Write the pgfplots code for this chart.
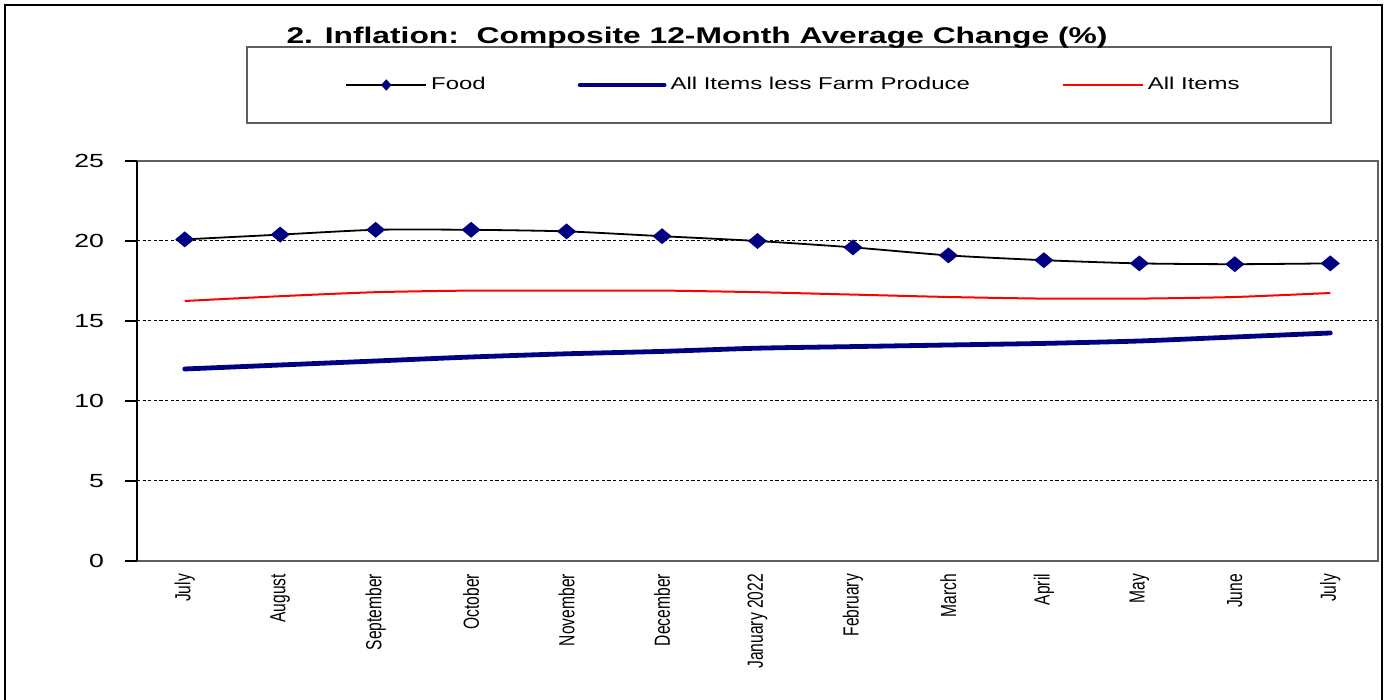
\documentclass[border=0pt]{standalone}
\usepackage{pgfplots}
\pgfplotsset{compat=1.18}
\usepackage{fontspec}
\usepackage{graphicx}
\setmainfont{Liberation Sans}
\newfontfamily\wf{Liberation Sans}[FakeStretch=1.4]
\definecolor{navy}{RGB}{0,0,128}
\definecolor{framegray}{RGB}{95,95,95}
\newcommand\ml[1]{\scalebox{1}[1.4]{#1}}
\begin{document}
\begin{tikzpicture}[x=0.5pt,y=0.5pt]
\useasboundingbox (0,0) rectangle (1388,700);
\draw[line width=1pt, black] (5,-10) -- (5,695) -- (1382,695) -- (1382,-10);
\draw[line width=0.8pt, framegray] (247,577) rectangle (1331,653);
\begin{axis}[
  at={(68.5pt,69.5pt)}, anchor=south west, scale only axis,
  width=620.5pt, height=200pt,
  xmin=-0.5, xmax=12.5, ymin=0, ymax=25,
  clip=false,
  axis line style={draw=none},
  xtick={0,1,2,3,4,5,6,7,8,9,10,11,12},
  xticklabels={\ml{July},\ml{August},\ml{September},\ml{October},\ml{November},\ml{December},\ml{January 2022},\ml{February},\ml{March},\ml{April},\ml{May},\ml{June},\ml{July}},
  xtick pos=bottom, ytick pos=left,
  tick align=outside,
  x tick style={draw=none},
  extra x ticks={-0.5,2.5,5.5,8.5,11.5},
  extra x tick labels={},
  extra x tick style={grid=none, major tick length=2.5pt, tick style={draw=framegray, line width=0.8pt}},
  xticklabel style={rotate=90, anchor=east, font=\fontsize{7.8}{9}\selectfont},
  xticklabel shift=-3pt,
  ytick={0,5,10,15,20,25},
  y tick style={black, line width=0.6pt},
  major tick length=6pt,
  /pgf/number format/assume math mode=true,
  yticklabel style={font=\wf\fontsize{9.5}{11}\selectfont, xshift=-7pt},
  ymajorgrids,
  grid style={black, line width=0.5pt, dash pattern=on 1.6pt off 1.2pt},
  title={2. Inflation:\ \ Composite 12-Month Average Change (\%)},
  title style={at={(axis description cs:0.4513,1.278)}, anchor=center, font=\wf\bfseries\fontsize{11.35}{14}\selectfont},
  legend columns=3,
  legend cell align=left,
  legend style={at={(axis description cs:0.1676,1.19)}, anchor=west, draw=none, fill=none, inner sep=0pt,
    font=\wf\fontsize{8.55}{10}\selectfont,
    /tikz/every even column/.append style={column sep=44pt}},
]
\addplot[black, line width=0.9pt, smooth, tension=0.4, mark=diamond*, mark size=3.4pt,
  mark options={navy, fill=navy, xscale=1.6, solid},
  legend image code/.code={\draw[black, line width=0.9pt] (0pt,0pt) -- (40pt,0pt);
    \fill[navy] (20pt,2.2pt) -- (22pt,0pt) -- (20pt,-2.2pt) -- (18pt,0pt) -- cycle;}]
coordinates {(0,20.1) (1,20.4) (2,20.7) (3,20.7) (4,20.6) (5,20.3) (6,20.0) (7,19.6) (8,19.1) (9,18.8) (10,18.6) (11,18.55) (12,18.6)};
\addlegendentry{Food}
\addplot[navy, line width=2.4pt, smooth, tension=0.4, line cap=round,
  legend image code/.code={\draw[navy, line width=2.4pt, line cap=round] (0pt,0pt) -- (42pt,0pt);}]
coordinates {(0,12.0) (1,12.25) (2,12.5) (3,12.75) (4,12.95) (5,13.1) (6,13.3) (7,13.4) (8,13.5) (9,13.6) (10,13.75) (11,14.0) (12,14.25)};
\addlegendentry{All Items less Farm Produce\hspace{2.5pt}}
\addplot[red, line width=1pt, smooth, tension=0.4,
  legend image code/.code={\draw[red, line width=1pt] (0pt,0pt) -- (40pt,0pt);}]
coordinates {(0,16.25) (1,16.55) (2,16.8) (3,16.9) (4,16.9) (5,16.9) (6,16.8) (7,16.65) (8,16.5) (9,16.4) (10,16.4) (11,16.5) (12,16.75)};
\addlegendentry{All Items}
\draw[framegray, line width=1pt] (rel axis cs:0,1) -- (rel axis cs:1,1) -- (rel axis cs:1,0) -- (rel axis cs:0,0);
\draw[black, line width=1pt] (rel axis cs:0,0) -- (rel axis cs:0,1);
\end{axis}
\end{tikzpicture}
\end{document}
